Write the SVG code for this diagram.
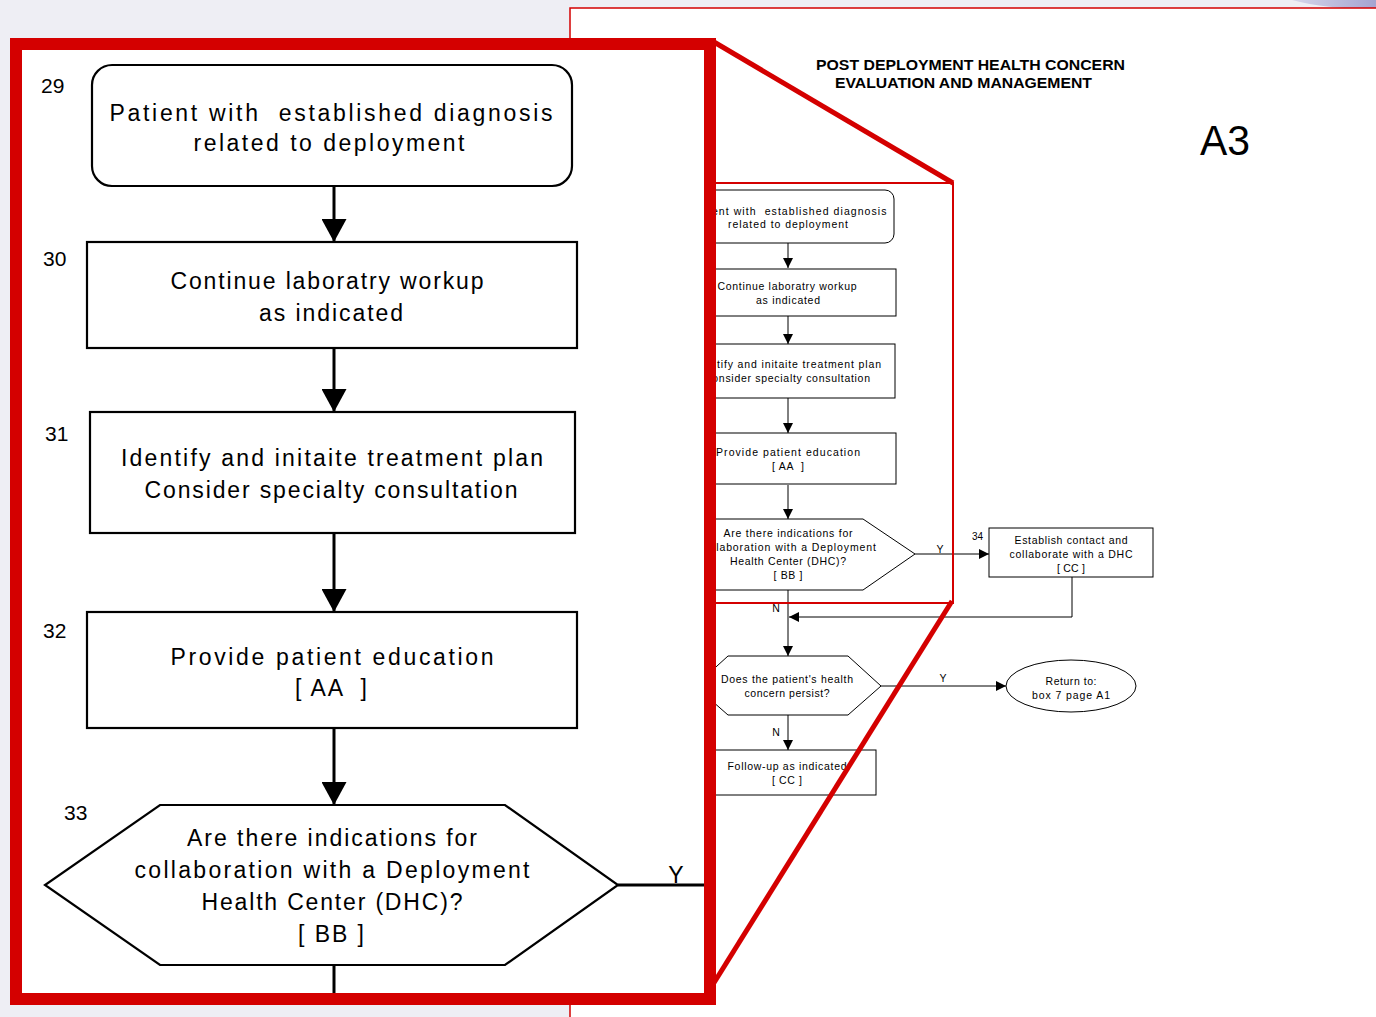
<svg xmlns="http://www.w3.org/2000/svg" width="1376" height="1017" viewBox="0 0 1376 1017">
  <defs>
    <style>
      .bg { fill: #eeeef4; }
      .page { fill: #ffffff; }
      .hl { fill: none; stroke: #d40000; }
      .shape { fill: #ffffff; stroke: #000000; stroke-width: 1; }
      .shape-lg { fill: #ffffff; stroke: #000000; stroke-width: 2.2; }
      .wire { fill: none; stroke: #000000; stroke-width: 1; }
      .wire-lg { fill: none; stroke: #000000; stroke-width: 3; }
      .t { font-family: "Liberation Sans", Arial, sans-serif; font-size: 10.5px; fill: #000; text-anchor: middle; white-space: pre; }
      .t-lg { font-family: "Liberation Sans", Arial, sans-serif; font-size: 23px; fill: #000; text-anchor: middle; white-space: pre; }
      .num { font-family: "Liberation Sans", Arial, sans-serif; font-size: 10px; fill: #000; }
      .num-lg { font-family: "Liberation Sans", Arial, sans-serif; font-size: 21px; fill: #000; }
      .title { font-family: "Liberation Sans", Arial, sans-serif; font-size: 14px; font-weight: bold; fill: #000; }
    </style>
    <marker id="ah" markerUnits="userSpaceOnUse" markerWidth="10" markerHeight="10" refX="10" refY="5" orient="auto">
      <path d="M0,0 L10,5 L0,10 Z" fill="#000"/>
    </marker>
    <marker id="ah-lg" markerUnits="userSpaceOnUse" markerWidth="23" markerHeight="25" refX="23" refY="12.5" orient="auto">
      <path d="M0,0 L23,12.5 L0,25 Z" fill="#000"/>
    </marker>
    <linearGradient id="corner" x1="0" y1="0" x2="1" y2="0">
      <stop offset="0" stop-color="#d6d6ea"/>
      <stop offset="1" stop-color="#a4a4d0"/>
    </linearGradient>
  </defs>

  <!-- backdrop and page sheet -->
  <rect class="bg" x="0" y="0" width="1376" height="1017"/>
  <path d="M1292,0 Q1325,9 1376,9 L1376,0 Z" fill="url(#corner)"/>
  <rect class="page" x="570" y="8" width="806" height="1009"/>
  <path d="M570,1017 L570,8 L1376,8" fill="none" stroke="#d40000" stroke-width="1.5"/>

  <text class="title" x="816" y="70" textLength="309" lengthAdjust="spacingAndGlyphs">POST DEPLOYMENT HEALTH CONCERN</text>
  <text class="title" x="835" y="88" textLength="257" lengthAdjust="spacingAndGlyphs">EVALUATION AND MANAGEMENT</text>
  <text x="1200" y="155" font-family="Liberation Sans, Arial, sans-serif" font-size="42" textLength="50" lengthAdjust="spacingAndGlyphs">A3</text>

  <!-- page-scale flowchart -->
  <g id="connectors">
    <line class="wire" x1="788" y1="243" x2="788" y2="268" marker-end="url(#ah)"/>
    <line class="wire" x1="788" y1="316" x2="788" y2="344" marker-end="url(#ah)"/>
    <line class="wire" x1="788" y1="398" x2="788" y2="433" marker-end="url(#ah)"/>
    <line class="wire" x1="788" y1="485" x2="788" y2="519" marker-end="url(#ah)"/>
    <line class="wire" x1="915" y1="554" x2="989" y2="554" marker-end="url(#ah)"/>
    <text class="t" x="940" y="553">Y</text>
    <line class="wire" x1="788" y1="590" x2="788" y2="656" marker-end="url(#ah)"/>
    <text class="t" x="776" y="612">N</text>
    <polyline class="wire" points="1072,577 1072,617 789,617" marker-end="url(#ah)"/>
    <line class="wire" x1="881" y1="686" x2="1006" y2="686" marker-end="url(#ah)"/>
    <text class="t" x="943" y="682">Y</text>
    <line class="wire" x1="788" y1="715" x2="788" y2="750" marker-end="url(#ah)"/>
    <text class="t" x="776" y="736">N</text>
  </g>

  <g id="node-29">
    <rect class="shape" x="682" y="190" width="212" height="53" rx="9"/>
    <text class="t" x="788" y="215" textLength="197">Patient with  established diagnosis</text>
    <text class="t" x="788" y="228" textLength="120">related to deployment</text>
  </g>
  <g id="node-30">
    <rect class="shape" x="679" y="269" width="217" height="47"/>
    <text class="t" x="787" y="290" textLength="139">Continue laboratry workup</text>
    <text class="t" x="788" y="304" textLength="64">as indicated</text>
  </g>
  <g id="node-31">
    <rect class="shape" x="680" y="344" width="215" height="54"/>
    <text class="t" x="787" y="368" textLength="188">Identify and initaite treatment plan</text>
    <text class="t" x="787" y="382" textLength="166">Consider specialty consultation</text>
  </g>
  <g id="node-32">
    <rect class="shape" x="679" y="433" width="217" height="51"/>
    <text class="t" x="788" y="456" textLength="144">Provide patient education</text>
    <text class="t" x="788" y="470" textLength="32">[ AA  ]</text>
  </g>
  <g id="node-33">
    <polygon class="shape" points="712,519 863,519 915,554 863,590 712,590 660,554"/>
    <text class="t" x="788" y="537" textLength="129">Are there indications for</text>
    <text class="t" x="788" y="551" textLength="176">collaboration with a Deployment</text>
    <text class="t" x="788" y="565" textLength="116">Health Center (DHC)?</text>
    <text class="t" x="788" y="579" textLength="29">[ BB ]</text>
  </g>
  <g id="node-34">
    <text class="num" x="972" y="540">34</text>
    <rect class="shape" x="989" y="528" width="164" height="49"/>
    <text class="t" x="1071" y="544" textLength="113">Establish contact and</text>
    <text class="t" x="1071" y="558" textLength="123">collaborate with a DHC</text>
    <text class="t" x="1071" y="572" textLength="28">[ CC ]</text>
  </g>
  <g id="node-35">
    <polygon class="shape" points="728,656 848,656 881,686 848,715 728,715 695,686"/>
    <text class="t" x="787" y="683" textLength="132">Does the patient's health</text>
    <text class="t" x="787" y="697" textLength="85">concern persist?</text>
  </g>
  <g id="node-return">
    <ellipse class="shape" cx="1071" cy="686" rx="65" ry="26"/>
    <text class="t" x="1071" y="685" textLength="51">Return to:</text>
    <text class="t" x="1071" y="699" textLength="78">box 7 page A1</text>
  </g>
  <g id="node-36">
    <rect class="shape" x="700" y="750" width="176" height="45"/>
    <text class="t" x="787" y="770" textLength="119">Follow-up as indicated</text>
    <text class="t" x="787" y="784" textLength="30">[ CC ]</text>
  </g>

  <!-- magnifier callout -->
  <rect class="hl" x="712" y="183" width="241" height="420" stroke-width="2"/>
  <line class="hl" x1="714" y1="42" x2="953" y2="183" stroke-width="5"/>
  <line class="hl" x1="952" y1="601" x2="712" y2="986" stroke-width="5"/>

  <rect x="16" y="44" width="694" height="955" fill="#ffffff" stroke="#d40000" stroke-width="12"/>

  <!-- enlarged view -->
  <g id="connectors-enlarged">
    <line class="wire-lg" x1="334" y1="186" x2="334" y2="242" marker-end="url(#ah-lg)"/>
    <line class="wire-lg" x1="334" y1="348" x2="334" y2="412" marker-end="url(#ah-lg)"/>
    <line class="wire-lg" x1="334" y1="533" x2="334" y2="612" marker-end="url(#ah-lg)"/>
    <line class="wire-lg" x1="334" y1="728" x2="334" y2="805" marker-end="url(#ah-lg)"/>
    <line class="wire-lg" x1="618" y1="885" x2="704" y2="885"/>
    <text class="t-lg" x="676" y="883">Y</text>
    <line class="wire-lg" x1="334" y1="965" x2="334" y2="993"/>
  </g>

  <g id="node-29-enlarged">
    <text class="num-lg" x="41" y="93">29</text>
    <rect class="shape-lg" x="92" y="65" width="480" height="121" rx="20"/>
    <text class="t-lg" x="331" y="121" textLength="443">Patient with  established diagnosis</text>
    <text class="t-lg" x="329" y="151" textLength="271">related to deployment</text>
  </g>
  <g id="node-30-enlarged">
    <text class="num-lg" x="43" y="266">30</text>
    <rect class="shape-lg" x="87" y="242" width="490" height="106"/>
    <text class="t-lg" x="327" y="289" textLength="313">Continue laboratry workup</text>
    <text class="t-lg" x="331" y="321" textLength="144">as indicated</text>
  </g>
  <g id="node-31-enlarged">
    <text class="num-lg" x="45" y="441">31</text>
    <rect class="shape-lg" x="90" y="412" width="485" height="121"/>
    <text class="t-lg" x="332" y="466" textLength="422">Identify and initaite treatment plan</text>
    <text class="t-lg" x="331" y="498" textLength="373">Consider specialty consultation</text>
  </g>
  <g id="node-32-enlarged">
    <text class="num-lg" x="43" y="638">32</text>
    <rect class="shape-lg" x="87" y="612" width="490" height="116"/>
    <text class="t-lg" x="332" y="665" textLength="323">Provide patient education</text>
    <text class="t-lg" x="331" y="696" textLength="72">[ AA  ]</text>
  </g>
  <g id="node-33-enlarged">
    <text class="num-lg" x="64" y="820">33</text>
    <polygon class="shape-lg" points="160,805 505,805 618,885 505,965 160,965 45,885"/>
    <text class="t-lg" x="332" y="846" textLength="290">Are there indications for</text>
    <text class="t-lg" x="332" y="878" textLength="395">collaboration with a Deployment</text>
    <text class="t-lg" x="332" y="910" textLength="261">Health Center (DHC)?</text>
    <text class="t-lg" x="331" y="942" textLength="66">[ BB ]</text>
  </g>
</svg>
